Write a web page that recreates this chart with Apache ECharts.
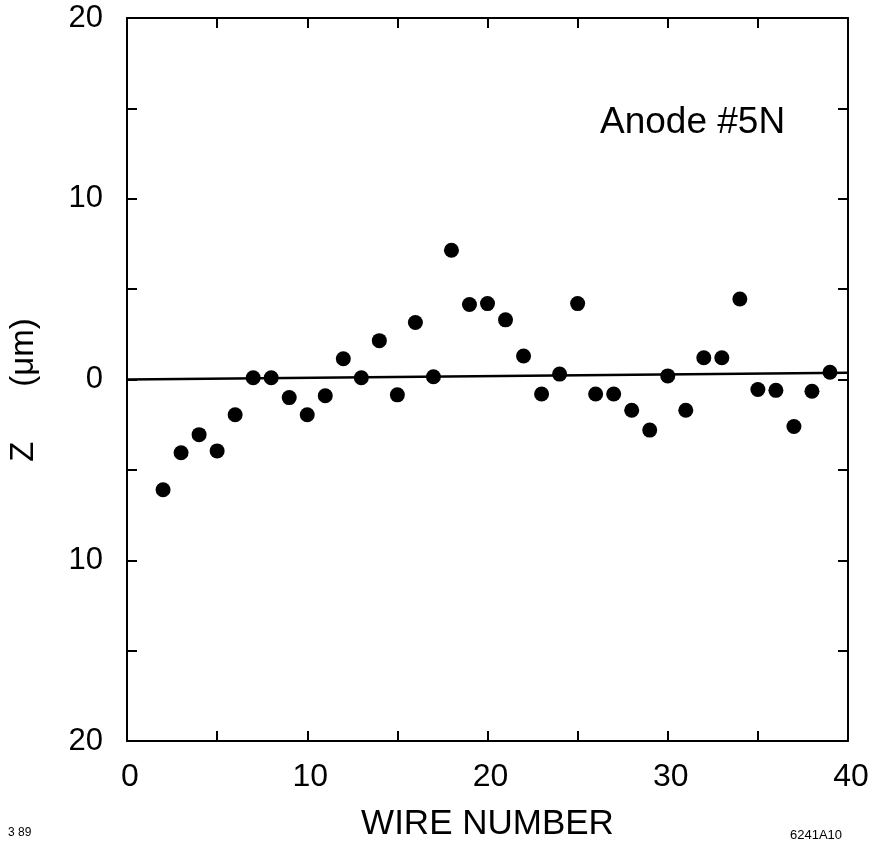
<!DOCTYPE html>
<html>
<head>
<meta charset="utf-8">
<script src="https://cdn.jsdelivr.net/npm/echarts@6/dist/echarts.min.js"></script>
<style>
  html, body { margin: 0; padding: 0; background: #fff; }
  #chart { width: 874px; height: 851px; }
</style>
</head>
<body>
<div id="chart"></div>
<script>
// wire number vs Z offset (um)
const wires = [2, 3, 4, 5, 6, 7, 8, 9, 10, 11, 12, 13, 14, 15, 16, 17, 18, 19, 20, 21,
  22, 23, 24, 25, 26, 27, 28, 29, 30, 31, 32, 33, 34, 35, 36, 37, 38, 39];
const zValues = [-6.1, -4.05, -3.05, -3.95, -1.95, 0.1, 0.1, -1.0, -1.95, -0.9, 1.15, 0.1,
  2.15, -0.85, 3.15, 0.15, 7.15, 4.15, 4.2, 3.3, 1.3, -0.8, 0.3, 4.2, -0.8, -0.8, -1.7,
  -2.8, 0.2, -1.7, 1.2, 1.2, 4.45, -0.55, -0.6, -2.6, -0.65, 0.4];
// reference line drawn through the data
const refLineX = [0, 40];
const refLineY = [0, 0.38];

const font = 'Liberation Sans, Arial, sans-serif';
const chart = echarts.init(document.getElementById('chart'));

// labels only every 10, shown without sign
const tenOnly = v => (v % 10 === 0 ? String(Math.abs(v)) : '');

const frameAxis = {
  axisLine: { onZero: false, lineStyle: { color: '#000', width: 2 } },
  axisTick: { inside: true, length: 10, lineStyle: { color: '#000', width: 2 } },
  splitLine: { show: false }
};

chart.setOption({
  animation: false,
  backgroundColor: '#fff',
  grid: { left: 127, right: 26, top: 18, bottom: 110 },
  xAxis: [
    Object.assign({
      type: 'value', min: 0, max: 40, interval: 5,
      axisLabel: { formatter: tenOnly, color: '#000', fontSize: 32, fontFamily: font, margin: 20, padding: [0, 0, 0, 6] },
      name: 'WIRE NUMBER', nameLocation: 'middle', nameGap: 66,
      nameTextStyle: { color: '#000', fontSize: 35, fontFamily: font, letterSpacing: 2 }
    }, frameAxis),
    Object.assign({
      type: 'value', min: 0, max: 40, interval: 5, position: 'top',
      axisLabel: { show: false }
    }, frameAxis)
  ],
  yAxis: [
    Object.assign({
      type: 'value', min: -20, max: 20, interval: 5,
      axisLabel: { formatter: tenOnly, color: '#000', fontSize: 31, fontFamily: font, margin: 24 }
    }, frameAxis),
    Object.assign({
      type: 'value', min: -20, max: 20, interval: 5, position: 'right',
      axisLabel: { show: false }
    }, frameAxis)
  ],
  graphic: [
    {
      type: 'text', x: 24, y: 390, rotation: Math.PI / 2,
      style: { text: 'Z      (\u03bcm)', fill: '#000', fontSize: 33, fontFamily: font, align: 'center', verticalAlign: 'middle' }
    },
    {
      type: 'text', x: 600, y: 123,
      style: { text: 'Anode #5N', fill: '#000', fontSize: 37, fontFamily: font, letterSpacing: 2, verticalAlign: 'middle' }
    },
    { type: 'text', x: 8, y: 833, style: { text: '3 89', fill: '#000', fontSize: 12, fontFamily: font, verticalAlign: 'middle' } },
    { type: 'text', x: 790, y: 835, style: { text: '6241A10', fill: '#000', fontSize: 13, fontFamily: font, verticalAlign: 'middle' } }
  ],
  series: [
    {
      type: 'line',
      data: refLineX.map((x, i) => [x, refLineY[i]]),
      symbol: 'none',
      lineStyle: { color: '#000', width: 2.5 },
      z: 1
    },
    {
      type: 'scatter',
      data: wires.map((w, i) => [w, zValues[i]]),
      symbol: 'circle',
      symbolSize: 15,
      itemStyle: { color: '#000', opacity: 1 },
      z: 2
    }
  ]
});
</script>
</body>
</html>
